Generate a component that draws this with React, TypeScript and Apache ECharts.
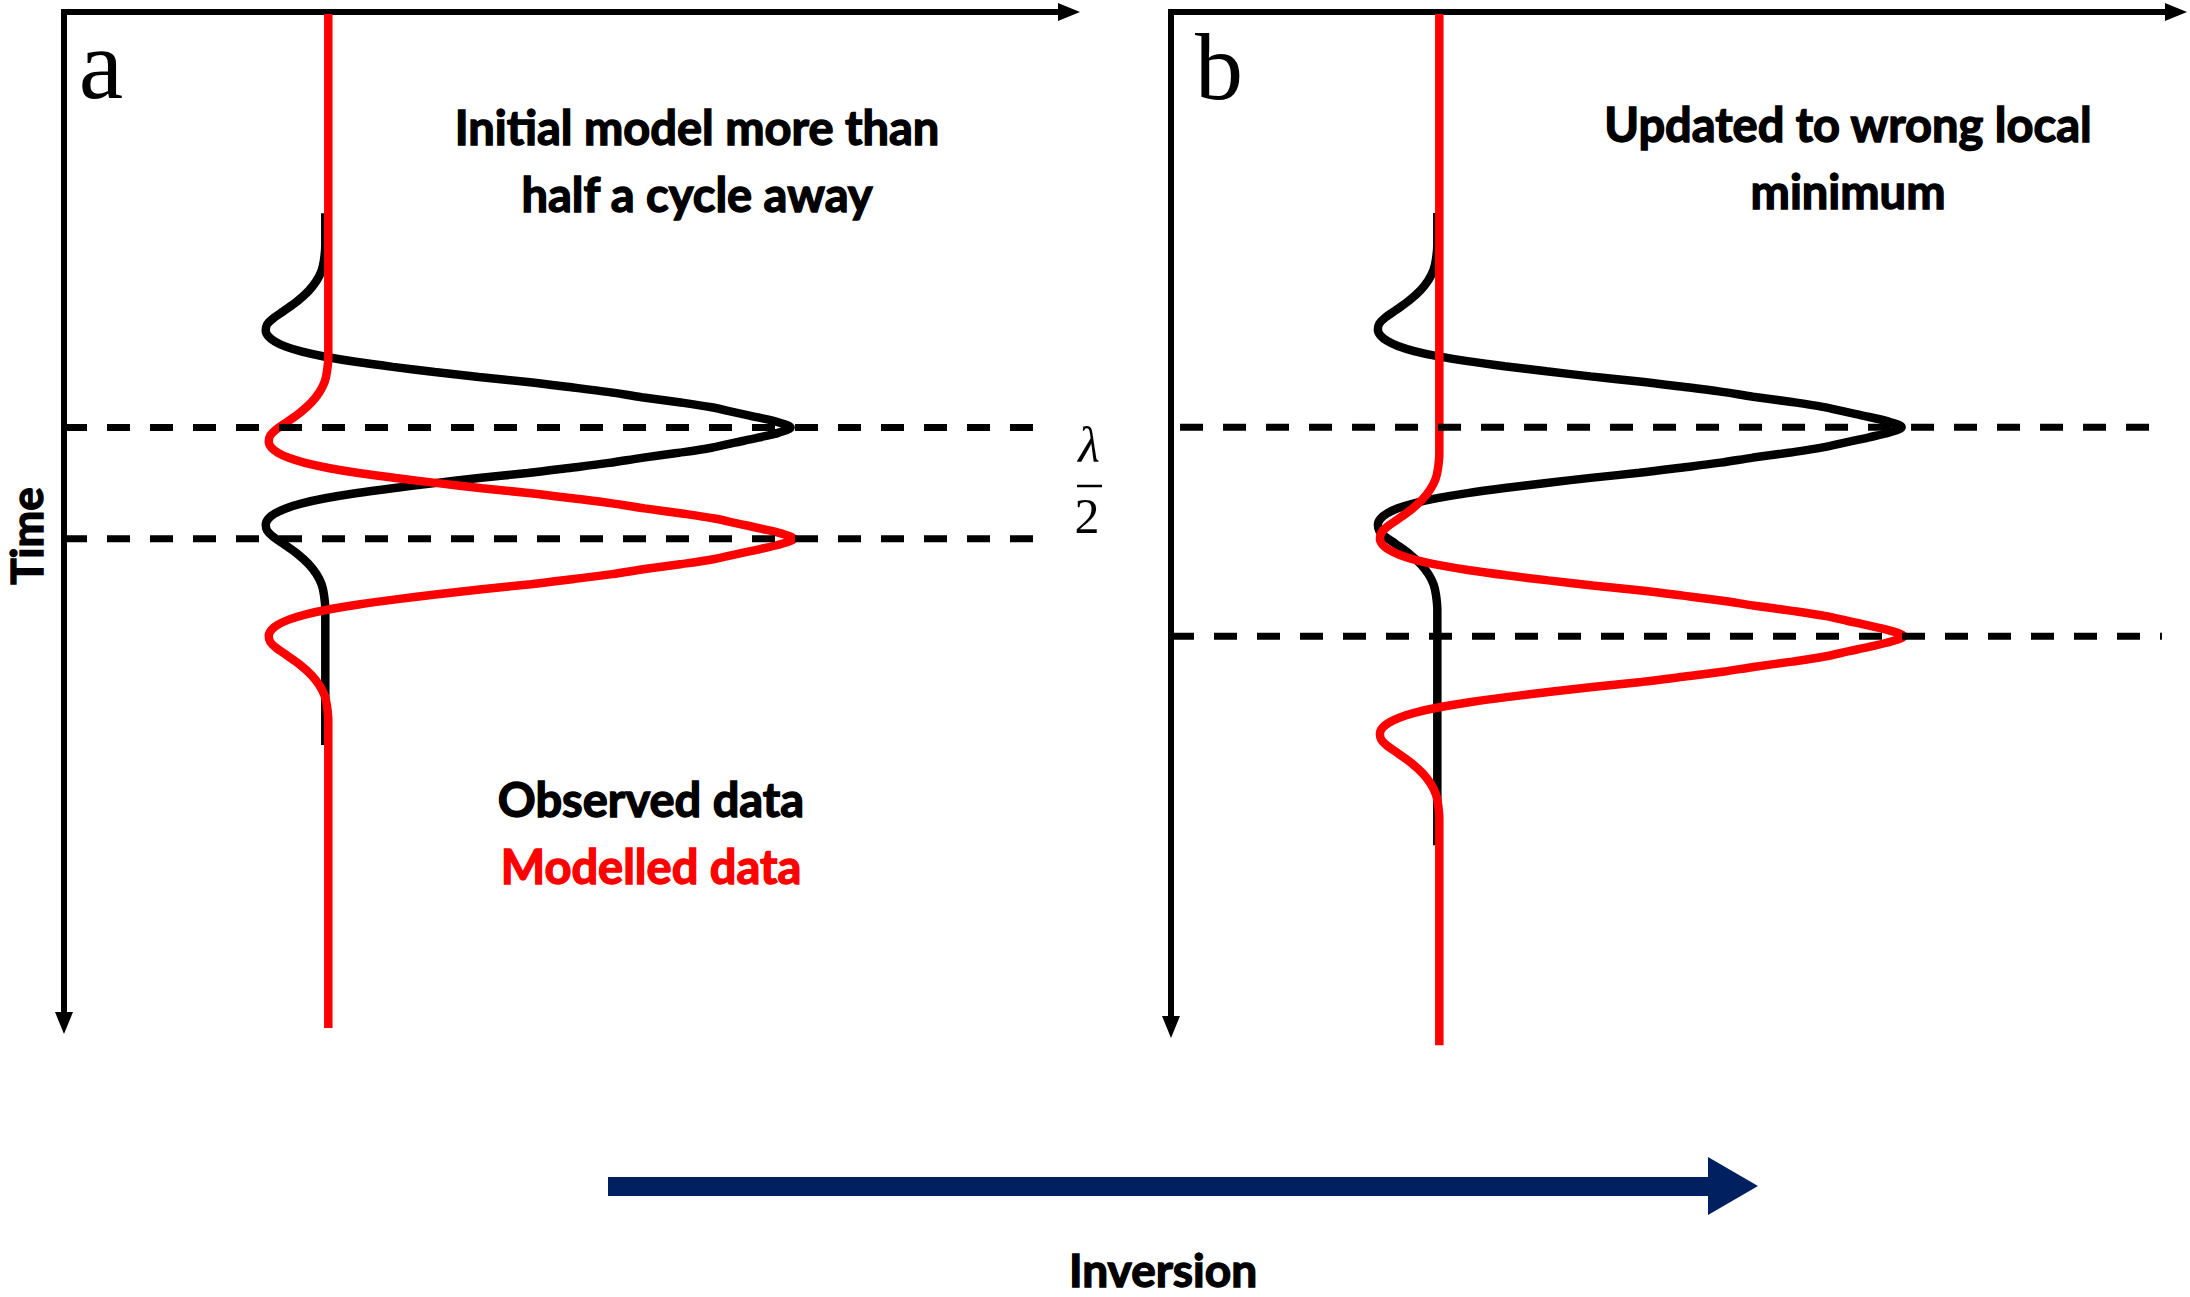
import React, { useEffect, useRef } from "react";
import * as echarts from "echarts";

// Source wavelet: time offset from the main peak (ms) and normalised amplitude
const waveletOffsets = [
  -180, -165, -155, -145, -135, -125, -115, -108, -102, -96,
  -90, -85, -80, -75, -70, -65, -60, -55, -50, -45,
  -40, -35, -30, -25, -20, -15, -10, -5, 0,
  5, 10, 15, 20, 25, 30, 35, 40, 45, 50,
  55, 60, 65, 70, 75, 80, 85, 90, 96, 102,
  108, 115, 125, 135, 145, 155, 165, 180,
];
const waveletAmps = [
  0, -0.003, -0.008, -0.019, -0.036, -0.06, -0.09, -0.112, -0.125, -0.128,
  -0.122, -0.108, -0.085, -0.05, 0, 0.065, 0.145, 0.235, 0.33, 0.435,
  0.525, 0.61, 0.68, 0.76, 0.83, 0.88, 0.93, 0.975, 1,
  0.975, 0.93, 0.88, 0.83, 0.76, 0.68, 0.61, 0.525, 0.435, 0.33,
  0.235, 0.145, 0.065, 0, -0.05, -0.085, -0.108, -0.122, -0.128, -0.125,
  -0.112, -0.09, -0.06, -0.036, -0.019, -0.008, -0.003, 0,
];

// Traces: panel, kind, trace position, gain, peak time, first and last sample time (ms)
const tracePanel = [0, 0, 1, 1];
const traceKind = ["Observed data", "Modelled data", "Observed data", "Modelled data"];
const traceBase = [26.0, 26.3, 26.5, 26.7];
const traceGain = [46.3, 46.3, 46.2, 46.2];
const tracePeak = [411, 521, 409, 615];
const traceStart = [199, 2, 198, 2];
const traceEnd = [725, 1005, 821, 1018];

// Horizontal dashed markers through the peaks
const markerPanel = [0, 0, 1, 1];
const markerTime = [411, 521, 409, 615];
const markerFrom = [0, 0, 0.9, 0];
const markerTo = [97.9, 97.9, 98.9, 98.6];

const panelLetters = ["a", "b"];
const panelTitles = [
  ["Initial model more than", "half a cycle away"],
  ["Updated to wrong local", "minimum"],
];

const KIND_COLOR: Record<string, string> = {
  "Observed data": "#000000",
  "Modelled data": "#ff0000",
};

const SANS = "Lato, 'Open Sans', sans-serif";
const SERIF = "'Liberation Serif', 'DejaVu Serif', serif";

function traceData(i: number): number[][] {
  const pts: number[][] = [[traceBase[i], traceStart[i]]];
  waveletOffsets.forEach((off, k) => {
    pts.push([traceBase[i] + traceGain[i] * waveletAmps[k], tracePeak[i] + off]);
  });
  pts.push([traceBase[i], traceEnd[i]]);
  return pts;
}

export default function App() {
  const ref = useRef<HTMLDivElement>(null);

  useEffect(() => {
    document.body.style.margin = "0";
    if (!ref.current) return;
    const chart = echarts.init(ref.current, undefined, { renderer: "svg" });

    const axisLineStyle = { color: "#000", width: 6, cap: "square" as const };

    const xAxes = [0, 1].map((g) => ({
      type: "value" as const,
      gridIndex: g,
      position: "top" as const,
      min: 0,
      max: 100,
      axisLine: {
        show: true,
        onZero: false,
        lineStyle: axisLineStyle,
        symbol: ["none", "triangle"],
        symbolSize: [18, 22],
      },
      axisTick: { show: false },
      axisLabel: { show: false },
      splitLine: { show: false },
    }));

    // time runs downwards; the arrow sits at the bottom end of the line
    const yAxes = [0, 1].map((g) => ({
      type: "value" as const,
      gridIndex: g,
      inverse: true,
      min: 0,
      max: 1000,
      axisLine: {
        show: true,
        onZero: false,
        lineStyle: axisLineStyle,
        symbol: ["triangle", "none"],
        symbolSize: [18, 22],
      },
      axisTick: { show: false },
      axisLabel: { show: false },
      splitLine: { show: false },
    }));

    const traceSeries = tracePanel.map((p, i) => ({
      type: "line" as const,
      name: traceKind[i],
      xAxisIndex: p,
      yAxisIndex: p,
      data: traceData(i),
      showSymbol: false,
      symbol: "none",
      smooth: 0.35,
      clip: false,
      z: traceKind[i] === "Modelled data" ? 4 : 3,
      lineStyle: { color: KIND_COLOR[traceKind[i]], width: 8.5 },
    }));

    const markerSeries = markerPanel.map((p, i) => ({
      type: "line" as const,
      xAxisIndex: p,
      yAxisIndex: p,
      data: [
        [markerFrom[i], markerTime[i]],
        [markerTo[i], markerTime[i]],
      ],
      showSymbol: false,
      symbol: "none",
      clip: false,
      z: 5,
      lineStyle: { color: "#000", width: 7, type: [23, 20] },
    }));

    const title = (text: string, x: number, y: number, color = "#000", size = 47) => ({
      type: "text" as const,
      x,
      y,
      z: 10,
      style: {
        text,
        fill: color,
        stroke: color,
        lineWidth: 1.4,
        font: `bold ${size}px ${SANS}`,
        align: "center",
        verticalAlign: "middle",
      },
    });

    const graphics: any[] = [
      // panel letters
      {
        type: "text",
        x: 101,
        y: 64,
        style: { text: panelLetters[0], fill: "#000", font: `normal 100px ${SERIF}`, align: "center", verticalAlign: "middle" },
      },
      {
        type: "text",
        x: 1219,
        y: 66,
        style: { text: panelLetters[1], fill: "#000", font: `normal 96px ${SERIF}`, align: "center", verticalAlign: "middle" },
      },
      // panel headings
      title(panelTitles[0][0], 697, 127),
      title(panelTitles[0][1], 697, 194),
      title(panelTitles[1][0], 1848, 124),
      title(panelTitles[1][1], 1848, 191),
      // legend text
      title(traceKind[0], 651, 799, KIND_COLOR[traceKind[0]]),
      title(traceKind[1], 651, 866, KIND_COLOR[traceKind[1]]),
      // time axis name
      {
        type: "text",
        x: 26,
        y: 536,
        rotation: Math.PI / 2,
        style: {
          text: "Time",
          fill: "#000",
          stroke: "#000",
          lineWidth: 1.4,
          font: `bold 44px ${SANS}`,
          align: "center",
          verticalAlign: "middle",
        },
      },
      // half-wavelength annotation
      {
        type: "text",
        x: 1089,
        y: 445,
        style: { text: "λ", fill: "#000", font: `italic 50px ${SERIF}`, align: "center", verticalAlign: "middle" },
      },
      {
        type: "line",
        shape: { x1: 1077, y1: 486, x2: 1102, y2: 486 },
        style: { stroke: "#000", lineWidth: 2.5 },
      },
      {
        type: "text",
        x: 1087,
        y: 516,
        style: { text: "2", fill: "#000", font: `normal 50px ${SERIF}`, align: "center", verticalAlign: "middle" },
      },
      // inversion arrow
      {
        type: "polygon",
        shape: {
          points: [
            [608, 1177],
            [1708, 1177],
            [1708, 1157],
            [1758, 1186],
            [1708, 1215],
            [1708, 1196],
            [608, 1196],
          ],
        },
        style: { fill: "#002060" },
      },
      title("Inversion", 1163, 1269, "#000", 46),
    ];

    chart.setOption({
      animation: false,
      backgroundColor: "#ffffff",
      grid: [
        { left: 64, top: 12, width: 1005, height: 1011 },
        { left: 1171, top: 12, width: 1005, height: 1015 },
      ],
      xAxis: xAxes,
      yAxis: yAxes,
      series: [...traceSeries, ...markerSeries],
      graphic: graphics,
    });

    return () => chart.dispose();
  }, []);

  return <div ref={ref} style={{ width: 2190, height: 1297 }} />;
}
